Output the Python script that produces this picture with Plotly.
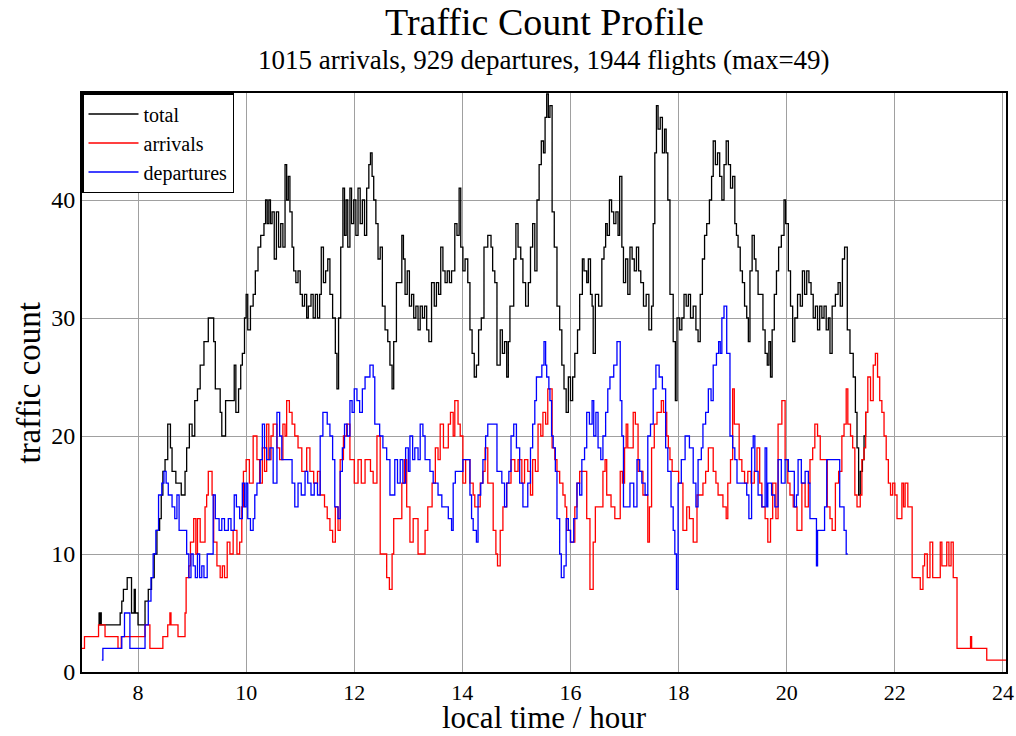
import plotly.graph_objects as go

# ---- data (hour, count) step series ----
total_t = [7.27,7.28,7.30,7.32,7.67,7.70,7.73,7.80,7.88,7.93,7.95,8.00,8.13,8.19,8.25,8.30,8.35,8.40,8.43,8.46,8.50,8.55,8.60,8.63,8.70,8.80,8.87,8.90,8.95,9.00,9.05,9.10,9.15,9.22,9.30,9.40,9.43,9.52,9.55,9.62,9.78,9.81,9.86,9.90,9.93,9.97,10.00,10.03,10.08,10.13,10.17,10.22,10.27,10.33,10.36,10.39,10.42,10.45,10.48,10.52,10.56,10.60,10.64,10.68,10.72,10.75,10.78,10.81,10.85,10.88,10.92,10.96,11.00,11.04,11.08,11.12,11.15,11.20,11.24,11.28,11.32,11.36,11.39,11.43,11.47,11.51,11.55,11.60,11.65,11.68,11.71,11.75,11.79,11.82,11.85,11.88,11.92,11.95,11.99,12.03,12.07,12.11,12.15,12.19,12.23,12.27,12.30,12.33,12.36,12.40,12.44,12.48,12.52,12.57,12.62,12.66,12.70,12.73,12.78,12.88,12.91,12.94,12.98,13.02,13.06,13.10,13.14,13.18,13.22,13.26,13.30,13.34,13.38,13.43,13.48,13.52,13.56,13.60,13.64,13.68,13.72,13.76,13.80,13.86,13.90,13.94,13.97,14.01,14.05,14.10,14.14,14.18,14.22,14.26,14.30,14.35,14.40,14.47,14.53,14.56,14.60,14.64,14.70,14.74,14.78,14.82,14.85,14.88,14.95,14.99,15.03,15.08,15.12,15.17,15.22,15.26,15.30,15.34,15.38,15.42,15.46,15.50,15.53,15.56,15.59,15.62,15.66,15.70,15.75,15.80,15.84,15.88,15.92,15.96,16.00,16.04,16.08,16.13,16.17,16.22,16.25,16.30,16.33,16.37,16.40,16.42,16.46,16.52,16.58,16.62,16.65,16.68,16.72,16.76,16.80,16.84,16.88,16.91,16.95,16.98,17.02,17.06,17.10,17.14,17.18,17.22,17.26,17.30,17.35,17.40,17.45,17.50,17.53,17.56,17.59,17.62,17.66,17.70,17.74,17.77,17.80,17.84,17.90,17.94,17.97,18.02,18.06,18.10,18.14,18.18,18.22,18.27,18.32,18.36,18.40,18.44,18.48,18.52,18.57,18.61,18.64,18.68,18.72,18.76,18.80,18.84,18.88,18.92,18.96,19.00,19.04,19.07,19.10,19.14,19.18,19.22,19.26,19.29,19.32,19.36,19.40,19.43,19.47,19.56,19.60,19.64,19.67,19.70,19.73,19.77,19.81,19.85,19.90,19.95,19.98,20.03,20.07,20.11,20.15,20.20,20.25,20.29,20.33,20.37,20.41,20.45,20.49,20.53,20.57,20.61,20.65,20.69,20.73,20.77,20.80,20.84,20.90,20.95,20.99,21.03,21.07,21.12,21.17,21.23,21.27,21.30,21.33,21.36,21.40,21.43,21.46,21.50]
total_v = [5,4,5,4,5,6,7,8,5,7,5,4,6,7,8,10,12,13,15,17,18,21,19,17,16,15,17,19,21,20,23,24,26,28,30,28,24,22,20,23,26,22,24,26,27,30,32,29,31,32,34,36,37,38,40,38,40,38,39,35,39,36,38,36,43,40,42,39,36,34,33,34,32,31,32,30,31,32,30,32,30,32,36,33,34,35,32,30,27,24,30,36,41,37,40,36,41,38,40,37,41,38,40,37,41,43,44,42,40,38,35,36,31,29,28,26,24,28,33,37,35,32,34,31,32,30,31,29,31,30,31,29,28,33,31,33,32,36,34,33,34,33,34,38,37,41,36,34,35,33,29,27,25,26,29,30,36,37,36,34,33,26,29,27,28,25,28,31,35,38,36,35,33,31,33,36,38,34,40,43,45,44,47,49,47,48,39,36,31,29,26,24,22,25,23,25,27,29,32,35,34,33,35,32,31,27,32,31,35,36,38,37,40,39,38,39,37,42,36,33,35,32,36,35,34,36,34,33,31,32,29,31,38,44,48,46,47,44,46,44,40,32,28,23,30,29,30,32,31,32,30,31,29,28,32,35,37,38,40,42,45,43,44,42,40,43,45,43,41,42,38,37,36,34,33,31,30,28,34,37,35,34,32,29,27,26,28,25,29,32,34,36,37,40,38,34,31,28,30,32,31,34,32,34,33,32,30,31,29,31,30,31,29,30,27,31,32,33,31,35,36,29,27,25,22,19,15,17,18,20,22,22]

arr_t = [6.96,7.01,7.27,7.39,7.63,7.69,8.13,8.22,8.46,8.55,8.59,8.61,8.74,8.87,8.89,8.94,8.97,9.03,9.07,9.10,9.15,9.24,9.27,9.30,9.37,9.40,9.46,9.52,9.56,9.60,9.65,9.70,9.76,9.83,9.88,9.92,9.95,10.00,10.06,10.13,10.20,10.25,10.30,10.34,10.38,10.42,10.46,10.50,10.57,10.62,10.68,10.72,10.75,10.80,10.85,10.90,10.96,11.03,11.12,11.18,11.25,11.32,11.37,11.45,11.50,11.55,11.60,11.65,11.70,11.74,11.80,11.86,11.92,12.00,12.07,12.13,12.20,12.30,12.35,12.42,12.48,12.60,12.65,12.70,12.73,12.88,12.93,12.97,13.03,13.09,13.18,13.31,13.36,13.44,13.50,13.55,13.59,13.65,13.74,13.78,13.83,13.86,13.92,13.96,14.01,14.06,14.14,14.20,14.23,14.33,14.38,14.42,14.47,14.57,14.62,14.65,14.70,14.75,14.82,14.90,14.97,15.03,15.10,15.15,15.21,15.26,15.30,15.35,15.40,15.45,15.49,15.54,15.58,15.66,15.71,15.75,15.80,15.86,15.90,15.93,16.00,16.08,16.12,16.17,16.30,16.36,16.42,16.46,16.60,16.64,16.67,16.75,16.82,16.92,16.96,17.00,17.03,17.06,17.16,17.20,17.25,17.34,17.43,17.46,17.50,17.55,17.60,17.68,17.72,17.78,17.81,17.84,17.88,18.00,18.08,18.15,18.20,18.27,18.34,18.45,18.50,18.55,18.64,18.69,18.73,18.82,18.88,18.91,18.96,19.00,19.03,19.12,19.17,19.22,19.28,19.34,19.40,19.45,19.50,19.54,19.60,19.65,19.70,19.74,19.80,19.84,19.91,19.97,20.02,20.06,20.12,20.19,20.28,20.34,20.40,20.43,20.48,20.52,20.57,20.62,20.75,20.80,20.84,20.90,20.96,21.02,21.06,21.10,21.13,21.18,21.22,21.26,21.30,21.36,21.39,21.43,21.46,21.50,21.55,21.60,21.64,21.68,21.72,21.76,21.80,21.84,21.88,21.92,21.96,22.00,22.04,22.13,22.16,22.19,22.24,22.32,22.47,22.52,22.55,22.60,22.65,22.70,22.84,22.87,22.96,23.00,23.04,23.08,23.15,23.40,23.42,23.70,24.07]
arr_v = [2,3,4,3,2,3,4,2,3,4,5,4,3,5,8,9,11,13,10,13,11,14,15,17,15,11,9,8,9,8,11,10,12,10,11,14,17,18,16,20,18,16,19,17,21,18,20,21,19,18,21,20,23,22,21,20,19,17,19,17,16,17,15,14,13,12,11,14,12,18,20,21,18,16,18,16,18,17,16,20,10,8,7,10,13,16,18,14,11,13,10,12,14,16,19,18,21,19,21,22,20,23,21,20,16,18,16,15,14,16,17,19,16,12,10,9,12,14,16,18,17,18,16,18,17,15,18,17,21,20,22,21,24,19,18,17,16,15,14,12,11,14,16,17,13,7,11,14,17,18,15,14,13,17,16,19,21,19,22,21,17,15,11,14,19,21,22,23,22,20,19,18,17,16,12,14,13,11,15,16,17,19,17,16,15,14,13,16,18,24,21,18,17,16,17,16,17,19,16,14,13,11,13,16,13,21,23,18,16,15,14,12,16,14,16,18,19,21,20,18,14,13,12,16,17,20,21,24,21,20,19,15,14,15,18,19,22,25,23,26,27,25,23,22,20,18,16,15,16,15,13,16,14,16,14,8,7,9,10,8,11,8,11,9,11,9,11,8,2,3,2,1,1]

dep_t = [7.33,7.35,7.70,7.75,7.85,8.13,8.19,8.24,8.28,8.33,8.38,8.44,8.48,8.52,8.56,8.63,8.68,8.72,8.76,8.90,8.94,8.98,9.02,9.06,9.10,9.14,9.18,9.22,9.28,9.39,9.43,9.50,9.55,9.60,9.67,9.72,9.78,9.82,9.88,9.93,9.97,10.00,10.03,10.08,10.13,10.16,10.20,10.26,10.30,10.34,10.38,10.44,10.50,10.57,10.62,10.66,10.85,10.90,10.96,11.02,11.09,11.14,11.20,11.26,11.32,11.37,11.42,11.50,11.55,11.60,11.64,11.70,11.74,11.78,11.82,11.87,11.92,11.96,12.00,12.05,12.10,12.15,12.20,12.29,12.35,12.38,12.47,12.53,12.60,12.66,12.75,12.80,12.85,12.90,12.95,13.00,13.03,13.08,13.12,13.18,13.22,13.27,13.31,13.40,13.46,13.55,13.62,13.74,13.80,13.83,13.87,14.01,14.14,14.17,14.20,14.26,14.29,14.34,14.38,14.43,14.47,14.64,14.73,14.78,14.82,14.86,14.90,14.95,15.00,15.06,15.12,15.21,15.26,15.30,15.34,15.37,15.47,15.51,15.54,15.56,15.60,15.62,15.65,15.68,15.72,15.75,15.80,15.83,15.88,15.92,15.96,16.00,16.06,16.12,16.17,16.21,16.26,16.30,16.35,16.40,16.43,16.47,16.51,16.56,16.60,16.65,16.69,16.73,16.80,16.86,16.92,16.95,16.98,17.10,17.17,17.23,17.28,17.32,17.38,17.43,17.48,17.53,17.58,17.64,17.70,17.76,17.80,17.86,17.90,17.93,17.96,17.99,18.05,18.12,18.20,18.27,18.32,18.36,18.42,18.45,18.50,18.55,18.60,18.64,18.70,18.74,18.77,18.80,18.84,18.89,18.95,19.00,19.04,19.08,19.26,19.30,19.35,19.38,19.41,19.47,19.54,19.60,19.63,19.65,19.72,19.78,19.84,19.90,19.97,20.03,20.10,20.14,20.18,20.21,20.27,20.34,20.40,20.43,20.55,20.57,20.70,20.74,20.98,21.06,21.10,21.13]
dep_v = [1,2,3,5,2,4,6,8,10,12,15,16,17,16,15,14,13,15,12,10,8,10,9,8,10,8,9,8,10,15,13,12,13,12,13,12,15,14,13,16,14,16,13,12,13,15,16,18,21,19,18,19,16,22,20,18,16,14,16,15,17,16,15,16,15,20,22,21,20,18,14,13,17,19,21,20,23,22,24,23,22,24,25,26,25,21,20,19,18,15,18,16,18,16,19,17,20,18,19,18,21,20,18,17,16,15,14,13,12,16,17,18,15,13,12,11,15,16,18,20,21,17,16,14,16,17,20,21,19,16,14,16,19,21,23,25,26,28,26,25,24,23,20,19,17,13,10,8,9,13,12,11,13,16,15,18,19,22,21,23,20,22,19,18,20,22,24,25,26,28,23,20,14,16,14,18,17,16,15,20,21,24,26,25,24,19,17,14,12,10,7,16,18,20,19,16,14,18,19,21,22,24,23,26,27,28,27,30,31,27,20,19,18,16,15,13,19,20,17,15,14,19,14,16,15,14,18,16,18,17,17,14,15,18,16,17,16,13,9,12,14,18,14,12,10,10]

names = ["total", "arrivals", "departures"]
colors = ["#000000", "#ff0000", "#0000ff"]
x_ticks = [8, 10, 12, 14, 16, 18, 20, 22, 24]
y_ticks = [0, 10, 20, 30, 40]

series = [(total_t, total_v), (arr_t, arr_v), (dep_t, dep_v)]
for (t, v), n in zip(series, names):
    if len(t) != len(v):
        raise ValueError(f"{n}: {len(t)} times vs {len(v)} values")

FONT = "Liberation Serif, Times New Roman, serif"
fig = go.Figure()
for (t, v), n, c in zip(series, names, colors):
    fig.add_trace(go.Scatter(x=t, y=v, name=n, mode="lines",
                             line=dict(shape="hv", color=c, width=1.3)))

axis_common = dict(showgrid=True, gridcolor="#a0a0a0", gridwidth=1,
                   showline=True, linecolor="black", linewidth=2, mirror=True,
                   zeroline=False, ticks="", automargin=False)
fig.update_layout(
    width=1016, height=736,
    margin=dict(l=82, r=10, t=93, b=64),
    paper_bgcolor="white", plot_bgcolor="white",
    font=dict(family=FONT, color="black"),
    xaxis=dict(range=[6.964, 24.056], tickvals=x_ticks,
               tickfont=dict(size=22, color="black"), **axis_common),
    yaxis=dict(range=[0, 49.07], tickvals=y_ticks,
               tickfont=dict(size=24, color="black"), **axis_common),
    legend=dict(x=0, y=1, xanchor="left", yanchor="top",
                bordercolor="black", borderwidth=1.5, bgcolor="white",
                font=dict(size=20), tracegroupgap=0, itemwidth=50),
    showlegend=True,
    annotations=[
        dict(text="Traffic Count Profile", xref="paper", yref="paper",
             x=0.5, y=1.122, xanchor="center", yanchor="middle",
             showarrow=False, font=dict(size=38)),
        dict(text="1015 arrivals, 929 departures, 1944 flights (max=49)",
             xref="paper", yref="paper", x=0.5, y=1.057,
             xanchor="center", yanchor="middle", showarrow=False,
             font=dict(size=27)),
        dict(text="local time / hour", xref="paper", yref="paper",
             x=0.5, y=-0.1102, xanchor="center", yanchor="bottom",
             borderpad=0, showarrow=False, font=dict(size=31)),
        dict(text="traffic count", xref="paper", yref="paper",
             x=-0.0584, y=0.5, xanchor="center", yanchor="middle",
             textangle=-90, showarrow=False, font=dict(size=33)),
    ],
)
fig.write_html("out.html")
